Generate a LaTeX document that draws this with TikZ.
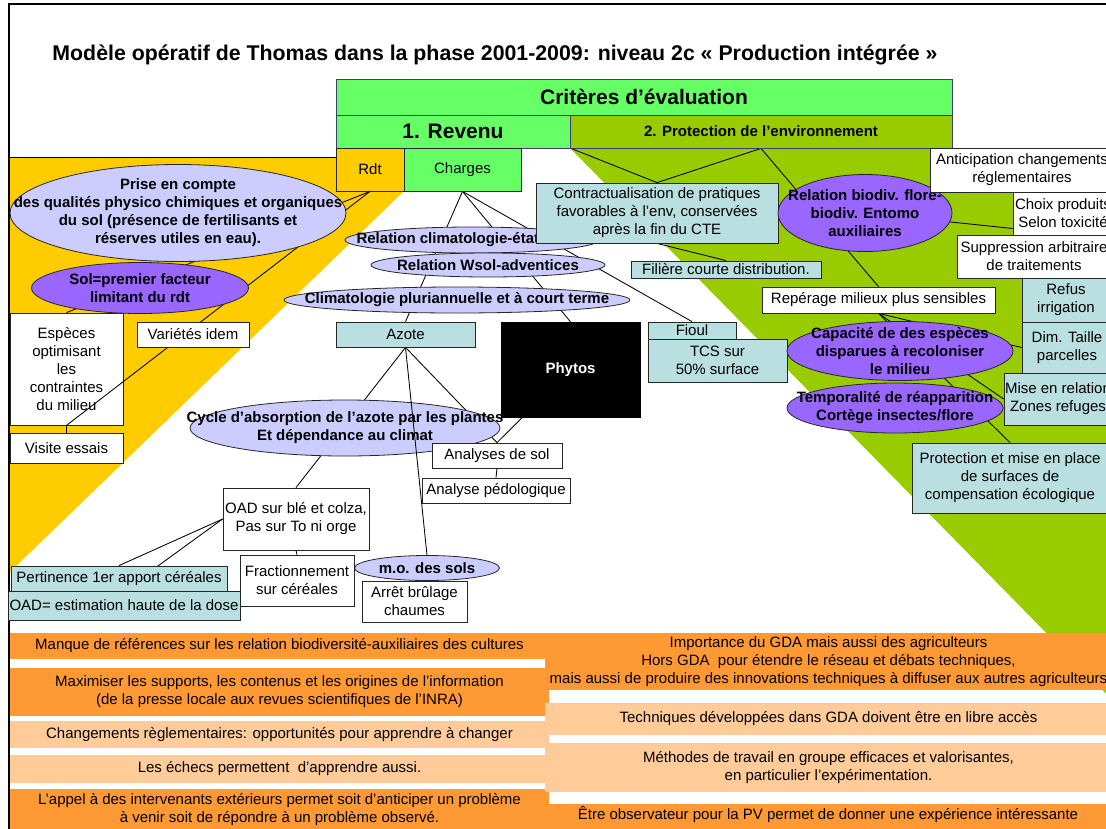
\documentclass[tikz,border=0pt]{standalone}
\usepackage{fontspec}
\setmainfont{Liberation Sans}
\usetikzlibrary{shapes.geometric,calc}
\pgfdeclarelayer{bg}\pgfdeclarelayer{edges}
\pgfsetlayers{bg,edges,main}
\definecolor{cgreen}{HTML}{66FF66}
\definecolor{cprot}{HTML}{99CC00}
\definecolor{cyellow}{HTML}{FFCC00}
\definecolor{clp}{HTML}{CCCCFF}
\definecolor{cp}{HTML}{9966FF}
\definecolor{cblue}{HTML}{B9DFE1}
\definecolor{corange}{HTML}{FF9933}
\definecolor{clight}{HTML}{FFCC99}
\definecolor{cnavy}{HTML}{3C3C78}
\newcommand\fs{\fontsize{15}{18}\selectfont}
\newcommand\bx[7]{\node[#6,minimum width={(#4-#2)*1pt},minimum height={(#5-#3)*1pt}] (#1) at ({(#2+#4)/2},{(#3+#5)/2}) {#7};}
\newcommand\el[7]{\node[#6,minimum width={#4*1pt},minimum height={#5*1pt}] (#1) at (#2,#3) {};\node[bt] (#1-t) at (#2,#3) {#7};}
\begin{document}
\begin{tikzpicture}[x=1pt,y=-1pt,
  every node/.style={inner sep=0pt,align=center,font=\fs},
  bxs/.style={draw=black!85,line width=0.8pt,fill=white},
  bbl/.style={bxs,fill=cblue},
  hdr/.style={draw=cnavy,line width=0.8pt},
  ell/.style={ellipse,draw=black!85,line width=0.8pt},
  lp/.style={ell,fill=clp},
  dp/.style={ell,fill=cp},
  bt/.style={font=\bfseries\fs},
  big/.style={font=\bfseries\fontsize{21}{24}\selectfont},
  con/.style={draw=black,line width=0.85pt}]
\useasboundingbox (0,0) rectangle (1106,828);
\clip (0,0) rectangle (1106,828);
% background shapes
\begin{pgfonlayer}{bg}
\fill[cyellow] (10,157) -- (404,157) -- (404,191) -- (10,572) -- cycle;
\draw[line width=0.8pt] (10,157) -- (336,157);
\fill[cprot] (570,148) -- (1120,148) -- (1120,708) -- cycle;
\end{pgfonlayer}
% frame and title
\draw[line width=2pt] (9,840) -- (9,4) -- (1120,4);
\node[font=\bfseries\fontsize{21.3}{25}\selectfont] (title) at (495,55) {Modèle opératif de Thomas dans la phase 2001-2009: niveau 2c « Production intégrée »};
% header
\bx{crit}{336}{79}{952}{115}{hdr,fill=cgreen,big}{Critères d’évaluation}
\bx{rev}{336}{115}{570}{148}{hdr,fill=cgreen,big}{1. Revenu}
\bx{prot}{570}{115}{952}{148}{hdr,fill=cprot,bt}{2. Protection de l’environnement}
\bx{rdt}{336}{148}{404}{191}{bxs,fill=cyellow}{Rdt}
\bx{charges}{404}{148}{521}{191}{bxs,fill=cgreen}{Charges}
% left part
\bx{especes}{10}{313}{123}{425}{bxs}{Espèces\\optimisant\\les\\contraintes\\du milieu}
\draw[con] (rdt.south) -- (especes.south);
\el{prise}{178}{213}{336}{97}{lp}{Prise en compte\\des qualités physico chimiques et organiques\\du sol (présence de fertilisants et\\réserves utiles en eau).}
\el{sol}{140}{288}{217}{51}{dp}{Sol=premier facteur\\limitant du rdt}
\bx{varietes}{137}{322}{249}{347}{bxs}{Variétés idem}
\bx{visite}{10}{433}{123}{463}{bxs}{Visite essais}
% middle
\el{relclim}{472}{240}{254}{26}{lp}{Relation climatologie-état du sol}
\el{wsol}{488}{265}{234}{24}{lp}{Relation Wsol-adventices}
\el{climat}{457}{300}{346}{26}{lp}{Climatologie pluriannuelle et à court terme}
\bx{azote}{336}{322}{475}{347}{bbl}{Azote}
\bx{phytos}{501}{322}{640}{417}{draw=black,fill=black,text=white,bt}{Phytos}
\bx{fioul}{648}{322}{736}{339}{bbl}{Fioul}
\bx{tcs}{648}{339}{787}{382}{bbl}{TCS sur\\50\% surface}
\el{cycle}{345}{428}{310}{56}{lp}{Cycle d’absorption de l’azote par les plantes\\Et dépendance au climat}
\bx{analyses}{432}{443}{562}{468}{bxs}{Analyses de sol}
\bx{pedo}{422}{478}{570}{503}{bxs}{Analyse pédologique}
\bx{oad}{223}{488}{369}{550}{bxs}{OAD sur blé et colza,\\Pas sur To ni orge}
\el{mo}{427}{568}{145}{25}{lp}{m.o. des sols}
\draw[con] (azote.south) -- (mo.north);
\bx{frac}{240}{555}{354}{606}{bxs}{Fractionnement\\sur céréales}
\bx{arret}{362}{581}{467}{622}{bxs}{Arrêt brûlage\\chaumes}
\bx{pert}{11}{566}{227}{591}{bbl}{Pertinence 1er apport céréales}
\bx{oadeq}{8}{591}{240}{620}{bbl}{OAD= estimation haute de la dose}
% right part
\bx{contract}{536}{183}{778}{243}{bbl}{Contractualisation de pratiques\\favorables à l’env, conservées\\après la fin du CTE}
\bx{filiere}{631}{261}{821}{278}{bbl}{Filière courte distribution.}
\el{biodiv}{865}{213}{174}{77}{dp}{Relation biodiv. flore-\\biodiv. Entomo\\auxiliaires}
\bx{reperage}{762}{287}{995}{313}{bxs}{Repérage milieux plus sensibles}
\el{capacite}{900}{351}{226}{59}{dp}{Capacité de des espèces\\disparues à recoloniser\\le milieu}
\el{tempo}{895}{408}{216}{50}{dp}{Temporalité de réapparition\\Cortège insectes/flore}
\bx{antic}{930}{148}{1114}{192}{bxs}{Anticipation changements\\réglementaires}
\bx{choix}{1013}{192}{1113}{235}{bxs}{Choix produits\\Selon toxicité}
\bx{suppr}{957}{235}{1111}{278}{bxs}{Suppression arbitraire\\de traitements}
\bx{refus}{1022}{278}{1110}{322}{bbl}{Refus\\irrigation}
\bx{dim}{1022}{322}{1112}{373}{bbl}{Dim. Taille\\parcelles}
\bx{mise}{1004}{373}{1112}{425}{bbl}{Mise en relation\\Zones refuges}
\bx{protec}{912}{443}{1108}{513}{bbl}{Protection et mise en place\\de surfaces de\\compensation écologique}
% bottom bands
\bx{b1}{10}{633}{549}{659}{fill=corange}{Manque de références sur les relation biodiversité-auxiliaires des cultures}
\bx{b2}{10}{668}{549}{716}{fill=corange}{Maximiser les supports, les contenus et les origines de l’information\\(de la presse locale aux revues scientifiques de l’INRA)}
\bx{b3}{10}{721}{549}{748}{fill=clight}{Changements règlementaires: opportunités pour apprendre à changer}
\bx{b4}{10}{755}{549}{783}{fill=clight}{Les échecs permettent~ d’apprendre aussi.}
\bx{b5}{10}{789}{549}{831}{fill=corange}{L’appel à des intervenants extérieurs permet soit d’anticiper un problème\\à venir soit de répondre à un problème observé.}
\bx{r1}{545}{633}{1112}{690}{fill=corange}{Importance du GDA mais aussi des agriculteurs\\Hors GDA~ pour étendre le réseau et débats techniques,\\mais aussi de produire des innovations techniques à diffuser aux autres agriculteurs}
\bx{r2}{545}{703}{1112}{735}{fill=clight}{Techniques développées dans GDA doivent être en libre accès}
\bx{r3}{545}{743}{1112}{792}{fill=clight}{Méthodes de travail en groupe efficaces et valorisantes,\\en particulier l’expérimentation.}
\fill[corange] (545,804) rectangle (1112,840);
\node (r4) at (828,814) {Être observateur pour la PV permet de donner une expérience intéressante};
% connectors behind nodes
\coordinate (pcorner) at (570,148);
\begin{pgfonlayer}{edges}
\draw[con] (charges.south) -- (azote.north);
\draw[con] (charges.south) -- (phytos.north);
\draw[con] (charges.south) -- (fioul.north);
\draw[con] (rdt.south) -- (especes.north);
\draw[con] (especes.south) -- (visite.north);
\draw[con] (azote.south) -- (oad.north);
\draw[con] (azote.south) -- (analyses.north);
\draw[con] (phytos) -- (analyses.north);
\draw[con] (analyses.south) -- (pedo.north);
\draw[con] (oad.west) -- (pert.north);
\draw[con] (oad.west) -- (oadeq.north);
\draw[con] (oad.south) -- (frac.north);
\draw[con] (pcorner) -- (contract.north);
\draw[con] (prot.south) -- (contract.north);
\draw[con] (contract.south) -- (filiere.north);
\draw[con] (prot.south) -- (reperage.north);
\draw[con] (biodiv.center) -- ($(choix.west)+(0,15)$);
\draw[con] (reperage.south) -- (dim.west);
\draw[con] (reperage.south) -- (mise.west);
\draw[con] (reperage.south) -- (protec.north);
\end{pgfonlayer}
\end{tikzpicture}
\end{document}
